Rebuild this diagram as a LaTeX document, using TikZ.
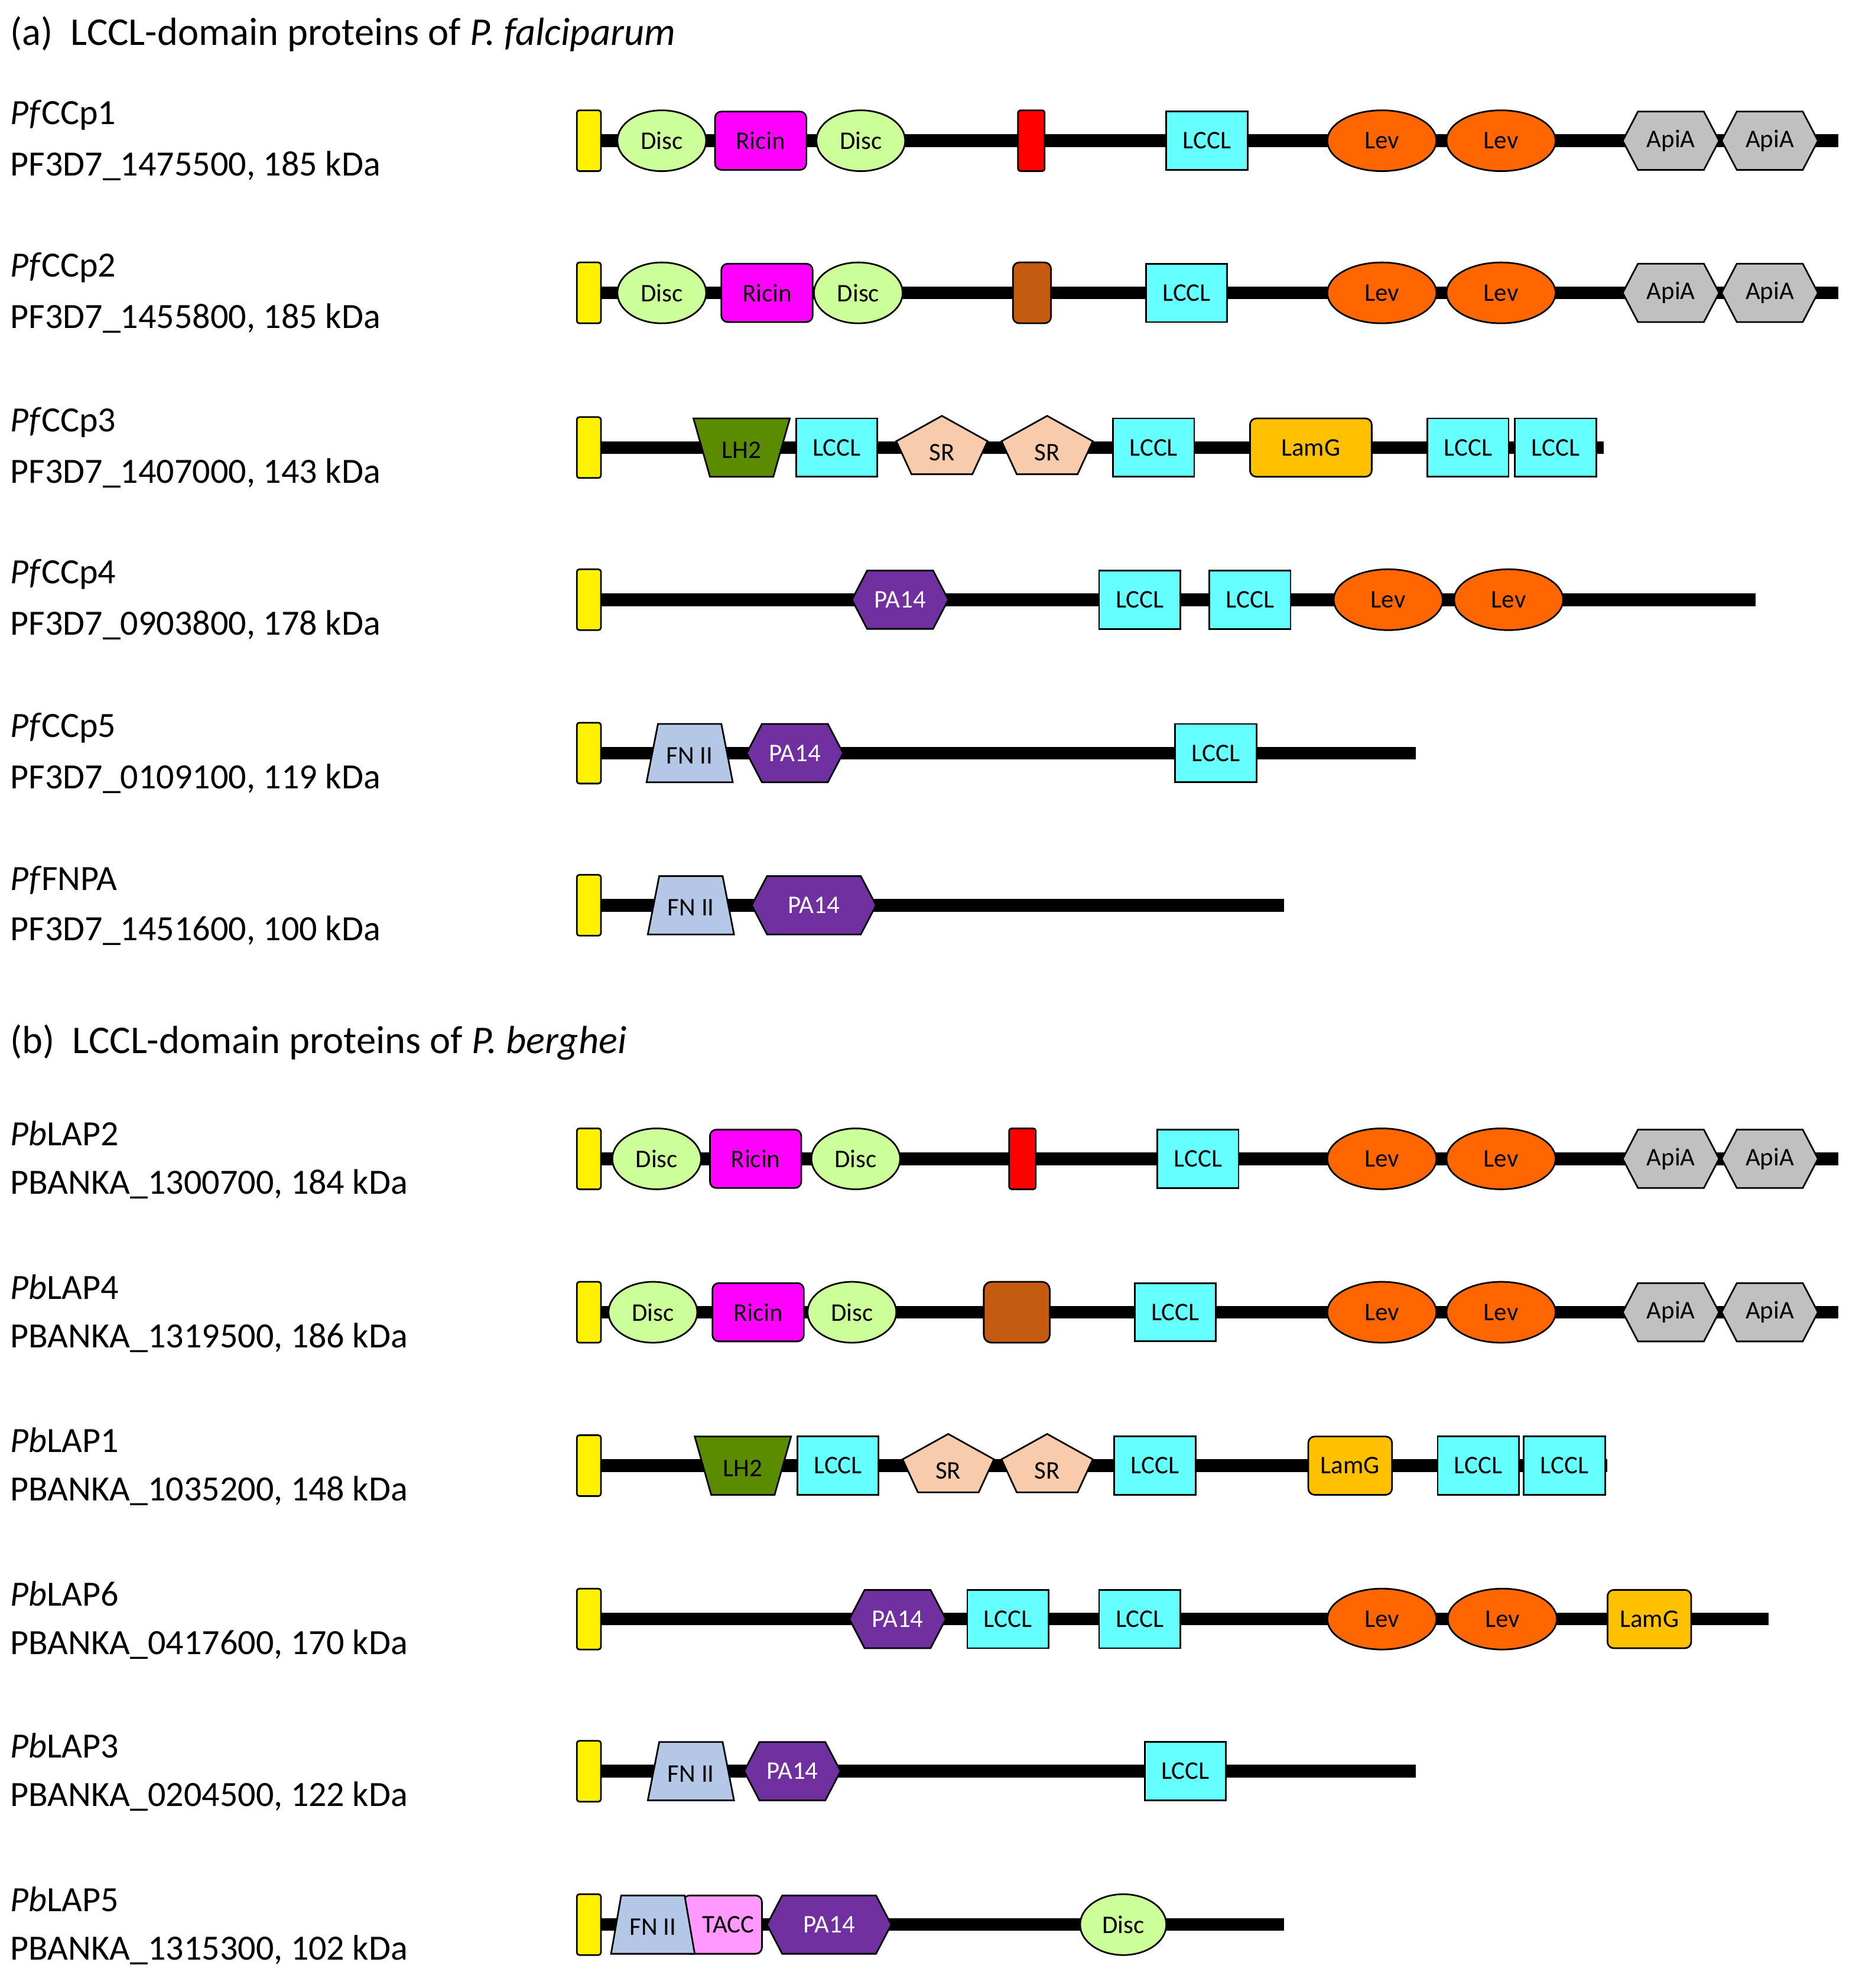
\documentclass[tikz,border=0pt]{standalone}
\usepackage{fontspec}
\setmainfont{Carlito}
\begin{document}
\begin{tikzpicture}[x=1pt,y=-1pt,
  bb/.style={line width=1.3pt,draw=black},
  dl/.style={font=\fontsize{20}{22}\selectfont,inner sep=0pt},
  nm/.style={anchor=west,font=\fontsize{28}{32}\selectfont,inner sep=0pt},
  tt/.style={anchor=west,font=\fontsize{31}{36}\selectfont,inner sep=0pt}]
\useasboundingbox (0,0) rectangle (1466,1568);
\definecolor{cdisc}{HTML}{CCFF99}\definecolor{cric}{HTML}{FF00FF}
\definecolor{ccyan}{HTML}{66FFFF}\definecolor{clev}{HTML}{FF6600}
\definecolor{capi}{HTML}{C0C0C0}\definecolor{clh}{HTML}{5B8C00}
\definecolor{csr}{HTML}{F8CBAD}\definecolor{clam}{HTML}{FFC000}
\definecolor{cpa}{HTML}{7030A0}\definecolor{cfn}{HTML}{B4C7E7}
\definecolor{ctacc}{HTML}{FF99FF}\definecolor{cbr}{HTML}{C55A11}
\newcommand\Bline[2]{\draw[line width=10pt] (465,#1) -- (#2,#1);
  \draw[bb,fill=yellow,rounded corners=2pt] (455,#1-24) rectangle (474,#1+24);}
\newcommand\DBox[7]{% x y w fill rc text textcolor
  \draw[bb,fill=#4,rounded corners=#5] (#1-#3/2,#2-23) rectangle (#1+#3/2,#2+23);
  \node[dl,text=#7] at (#1,#2) {#6};}
\newcommand\DEll[6]{% x y w fill text textcol
  \draw[bb,fill=#4] (#1,#2) ellipse ({#3/2} and 24);
  \node[dl,text=#6] at (#1,#2) {#5};}
\newcommand\DHex[6]{% x y w fill text tc
  \draw[bb,fill=#4] (#1-#3/2,#2) -- (#1-#3/2+12,#2-23) -- (#1+#3/2-12,#2-23) -- (#1+#3/2,#2) -- (#1+#3/2-12,#2+23) -- (#1-#3/2+12,#2+23) -- cycle;
  \node[dl,text=#6] at (#1,#2) {#5};}
\newcommand\DTrap[6]{% x y topw botw fill text
  \draw[bb,fill=#5] (#1-#3/2,#2-23) -- (#1+#3/2,#2-23) -- (#1+#4/2,#2+23) -- (#1-#4/2,#2+23) -- cycle;
  \node[dl] at (#1,#2+2) {#6};}
\newcommand\DSR[2]{\draw[bb,fill=csr] (#1,#2-25) -- (#1+36,#2-5) -- (#1+24,#2+21) -- (#1-24,#2+21) -- (#1-36,#2-5) -- cycle;
  \node[dl] at (#1,#2+4) {SR};}
\newcommand\DLbl[4]{\node[nm] (n#1) at (8,#2-20) {#3}; \node[nm] (i#1) at (8,#2+20) {#4};}
% titles
\node[tt] (ta) at (8,27) {(a)\ \ LCCL-domain proteins of \textit{P. falciparum}};
\node[tt] (tb) at (8,822) {(b)\ \ LCCL-domain proteins of \textit{P. berghei}};
% Row 1
\DLbl{1}{111}{\textit{Pf}CCp1}{PF3D7\_1475500, 185 kDa}
\Bline{111}{1450}
\DEll{522}{111}{70}{cdisc}{Disc}{black}\DBox{600}{111}{72}{cric}{5pt}{Ricin}{black}\DEll{679}{111}{70}{cdisc}{Disc}{black}
\draw[bb,fill=red,rounded corners=2pt] (803,87) rectangle (824,135);
\DBox{952}{111}{64}{ccyan}{0pt}{LCCL}{black}
\DEll{1090}{111}{86}{clev}{Lev}{black}\DEll{1184}{111}{86}{clev}{Lev}{black}
\DHex{1318}{111}{76}{capi}{ApiA}{black}\DHex{1396}{111}{76}{capi}{ApiA}{black}
% Row 2
\DLbl{2}{231}{\textit{Pf}CCp2}{PF3D7\_1455800, 185 kDa}
\Bline{231}{1450}
\DEll{522}{231}{70}{cdisc}{Disc}{black}\DBox{605}{231}{72}{cric}{5pt}{Ricin}{black}\DEll{677}{231}{70}{cdisc}{Disc}{black}
\draw[bb,fill=cbr,rounded corners=5pt] (799,207) rectangle (829,255);
\DBox{936}{231}{64}{ccyan}{0pt}{LCCL}{black}
\DEll{1090}{231}{86}{clev}{Lev}{black}\DEll{1184}{231}{86}{clev}{Lev}{black}
\DHex{1318}{231}{76}{capi}{ApiA}{black}\DHex{1396}{231}{76}{capi}{ApiA}{black}
% Row 3
\DLbl{3}{353}{\textit{Pf}CCp3}{PF3D7\_1407000, 143 kDa}
\Bline{353}{1265}
\DTrap{585}{353}{76}{50}{clh}{LH2}
\DBox{660}{353}{64}{ccyan}{0pt}{LCCL}{black}\DSR{743}{353}\DSR{826}{353}
\DBox{910}{353}{64}{ccyan}{0pt}{LCCL}{black}
\DBox{1034}{353}{96}{clam}{5pt}{LamG}{black}
\DBox{1158}{353}{64}{ccyan}{0pt}{LCCL}{black}\DBox{1227}{353}{64}{ccyan}{0pt}{LCCL}{black}
% Row 4
\DLbl{4}{473}{\textit{Pf}CCp4}{PF3D7\_0903800, 178 kDa}
\Bline{473}{1385}
\DHex{710}{473}{76}{cpa}{PA14}{white}
\DBox{899}{473}{64}{ccyan}{0pt}{LCCL}{black}\DBox{986}{473}{64}{ccyan}{0pt}{LCCL}{black}
\DEll{1095}{473}{86}{clev}{Lev}{black}\DEll{1190}{473}{86}{clev}{Lev}{black}
% Row 5
\DLbl{5}{594}{\textit{Pf}CCp5}{PF3D7\_0109100, 119 kDa}
\Bline{594}{1117}
\DTrap{544}{594}{50}{68}{cfn}{FN II}
\DHex{627}{594}{76}{cpa}{PA14}{white}
\DBox{959}{594}{64}{ccyan}{0pt}{LCCL}{black}
% Row 6
\DLbl{6}{714}{\textit{Pf}FNPA}{PF3D7\_1451600, 100 kDa}
\Bline{714}{1013}
\DTrap{545}{714}{50}{68}{cfn}{FN II}
\DHex{642}{714}{98}{cpa}{PA14}{white}
% Row 7
\DLbl{7}{914}{\textit{Pb}LAP2}{PBANKA\_1300700, 184 kDa}
\Bline{914}{1450}
\DEll{518}{914}{70}{cdisc}{Disc}{black}\DBox{596}{914}{72}{cric}{5pt}{Ricin}{black}\DEll{675}{914}{70}{cdisc}{Disc}{black}
\draw[bb,fill=red,rounded corners=2pt] (796,890) rectangle (817,938);
\DBox{945}{914}{64}{ccyan}{0pt}{LCCL}{black}
\DEll{1090}{914}{86}{clev}{Lev}{black}\DEll{1184}{914}{86}{clev}{Lev}{black}
\DHex{1318}{914}{76}{capi}{ApiA}{black}\DHex{1396}{914}{76}{capi}{ApiA}{black}
% Row 8
\DLbl{8}{1035}{\textit{Pb}LAP4}{PBANKA\_1319500, 186 kDa}
\Bline{1035}{1450}
\DEll{515}{1035}{70}{cdisc}{Disc}{black}\DBox{598}{1035}{72}{cric}{5pt}{Ricin}{black}\DEll{672}{1035}{70}{cdisc}{Disc}{black}
\draw[bb,fill=cbr,rounded corners=6pt] (776,1011) rectangle (828,1059);
\DBox{927}{1035}{64}{ccyan}{0pt}{LCCL}{black}
\DEll{1090}{1035}{86}{clev}{Lev}{black}\DEll{1184}{1035}{86}{clev}{Lev}{black}
\DHex{1318}{1035}{76}{capi}{ApiA}{black}\DHex{1396}{1035}{76}{capi}{ApiA}{black}
% Row 9
\DLbl{9}{1156}{\textit{Pb}LAP1}{PBANKA\_1035200, 148 kDa}
\Bline{1156}{1268}
\DTrap{586}{1156}{76}{50}{clh}{LH2}
\DBox{661}{1156}{64}{ccyan}{0pt}{LCCL}{black}\DSR{748}{1156}\DSR{826}{1156}
\DBox{911}{1156}{64}{ccyan}{0pt}{LCCL}{black}
\DBox{1065}{1156}{66}{clam}{5pt}{LamG}{black}
\DBox{1166}{1156}{64}{ccyan}{0pt}{LCCL}{black}\DBox{1234}{1156}{64}{ccyan}{0pt}{LCCL}{black}
% Row 10
\DLbl{10}{1277}{\textit{Pb}LAP6}{PBANKA\_0417600, 170 kDa}
\Bline{1277}{1395}
\DHex{708}{1277}{76}{cpa}{PA14}{white}
\DBox{795}{1277}{64}{ccyan}{0pt}{LCCL}{black}\DBox{899}{1277}{64}{ccyan}{0pt}{LCCL}{black}
\DEll{1090}{1277}{86}{clev}{Lev}{black}\DEll{1185}{1277}{86}{clev}{Lev}{black}
\DBox{1301}{1277}{66}{clam}{5pt}{LamG}{black}
% Row 11
\DLbl{11}{1397}{\textit{Pb}LAP3}{PBANKA\_0204500, 122 kDa}
\Bline{1397}{1117}
\DTrap{545}{1397}{50}{68}{cfn}{FN II}
\DHex{625}{1397}{76}{cpa}{PA14}{white}
\DBox{935}{1397}{64}{ccyan}{0pt}{LCCL}{black}
% Row 12
\DLbl{12}{1518}{\textit{Pb}LAP5}{PBANKA\_1315300, 102 kDa}
\Bline{1518}{1013}
\DBox{570}{1518}{62}{ctacc}{5pt}{\ \ TACC}{black}
\DTrap{515}{1518}{50}{66}{cfn}{FN II}
\DHex{654}{1518}{98}{cpa}{PA14}{white}
\DEll{886}{1518}{68}{cdisc}{Disc}{black}
\end{tikzpicture}
\end{document}
